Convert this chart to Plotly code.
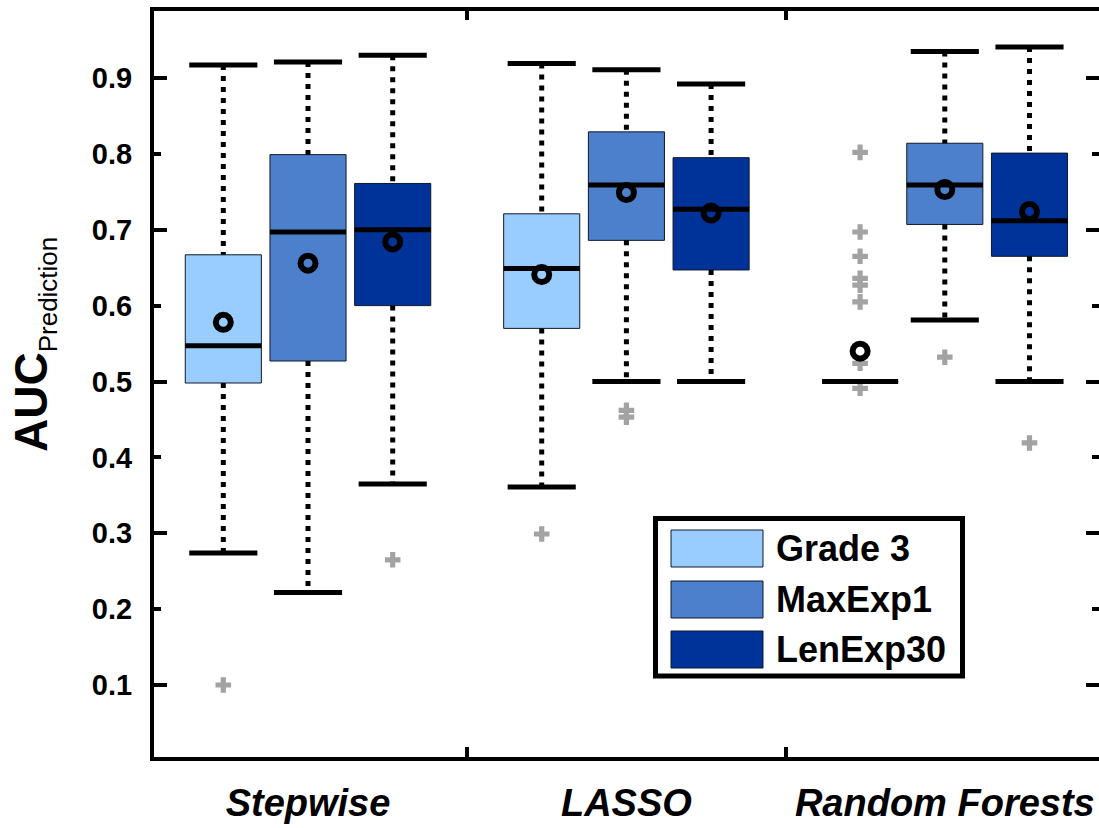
import plotly.graph_objects as go

# Methods on the x axis and the three endpoint definitions compared within each
methods = ["Stepwise", "LASSO", "Random Forests"]
models = ["Grade 3", "MaxExp1", "LenExp30"]
fill_colors = ["#99CCFF", "#4D80CC", "#003399"]

# Box-plot summary statistics of AUC (one value per method)
upper_whisker = {
    "Grade 3":  [0.917, 0.919, 0.500],
    "MaxExp1":  [0.921, 0.911, 0.935],
    "LenExp30": [0.930, 0.892, 0.941],
}
q3 = {
    "Grade 3":  [0.667, 0.721, 0.500],
    "MaxExp1":  [0.799, 0.829, 0.814],
    "LenExp30": [0.761, 0.795, 0.801],
}
median = {
    "Grade 3":  [0.547, 0.649, 0.500],
    "MaxExp1":  [0.697, 0.759, 0.759],
    "LenExp30": [0.700, 0.727, 0.712],
}
mean = {
    "Grade 3":  [0.578, 0.641, 0.540],
    "MaxExp1":  [0.656, 0.749, 0.753],
    "LenExp30": [0.684, 0.722, 0.724],
}
q1 = {
    "Grade 3":  [0.498, 0.570, 0.500],
    "MaxExp1":  [0.527, 0.686, 0.707],
    "LenExp30": [0.600, 0.647, 0.665],
}
lower_whisker = {
    "Grade 3":  [0.274, 0.361, 0.500],
    "MaxExp1":  [0.222, 0.500, 0.581],
    "LenExp30": [0.365, 0.500, 0.500],
}
outliers = {
    "Grade 3":  [[0.100], [0.299],
                 [0.802, 0.697, 0.665, 0.636, 0.627, 0.605, 0.524, 0.491]],
    "MaxExp1":  [[], [0.462, 0.453], [0.532]],
    "LenExp30": [[0.265], [], [0.419]],
}

y_ticks = [0.1, 0.2, 0.3, 0.4, 0.5, 0.6, 0.7, 0.8, 0.9]
y_long_ticks = [0.1, 0.3, 0.5, 0.7, 0.9]
group_dividers = [1.5, 2.5]

# Layout geometry (category units)
offsets = [-0.266, 0.0, 0.266]
box_w = 0.239
cap_w = 0.214

FONT = "Liberation Sans, Arial, sans-serif"
fig = go.Figure()

centers = {}
for k, model in enumerate(models):
    centers[model] = [i + 1 + offsets[k] for i in range(len(methods))]

# Boxes (Q1 to Q3)
for k, model in enumerate(models):
    fig.add_bar(
        x=centers[model],
        y=[hi - lo for hi, lo in zip(q3[model], q1[model])],
        base=q1[model],
        width=box_w,
        marker=dict(color=fill_colors[k], line=dict(color="#101828", width=1)),
        hoverinfo="skip",
    )

# Outliers
ox, oy = [], []
for model in models:
    for xc, vals in zip(centers[model], outliers[model]):
        ox += [xc] * len(vals)
        oy += vals
fig.add_scatter(x=ox, y=oy, mode="markers",
                marker=dict(symbol="cross", size=13, color="#A3A3A3"),
                hoverinfo="skip")

# Dotted whiskers
wx, wy = [], []
for model in models:
    for xc, a, b, c, d in zip(centers[model], q3[model], upper_whisker[model],
                              q1[model], lower_whisker[model]):
        wx += [xc, xc, None, xc, xc, None]
        wy += [b, a, None, c, d, None]
fig.add_scatter(x=wx, y=wy, mode="lines",
                line=dict(color="black", width=5, dash="5px,6px"),
                hoverinfo="skip")

# Whisker caps
cx, cy = [], []
for model in models:
    for xc, up, lo in zip(centers[model], upper_whisker[model], lower_whisker[model]):
        for v in (up, lo):
            cx += [xc - cap_w / 2, xc + cap_w / 2, None]
            cy += [v, v, None]
fig.add_scatter(x=cx, y=cy, mode="lines",
                line=dict(color="black", width=5), hoverinfo="skip")

# Medians
mx, my = [], []
for model in models:
    for xc, v in zip(centers[model], median[model]):
        mx += [xc - box_w / 2, xc + box_w / 2, None]
        my += [v, v, None]
fig.add_scatter(x=mx, y=my, mode="lines",
                line=dict(color="black", width=5), hoverinfo="skip")

# Means
for model in models:
    fig.add_scatter(x=centers[model], y=mean[model], mode="markers",
                    marker=dict(symbol="circle-open", size=15, color="black",
                                line=dict(width=6)),
                    hoverinfo="skip")

# Empty traces so the extra tick-only axes are rendered
fig.add_scatter(x=[None], y=[None], xaxis="x2", mode="markers", hoverinfo="skip")
for ax in ("y2", "y3", "y4"):
    fig.add_scatter(x=[None], y=[None], yaxis=ax, mode="markers",
                    hoverinfo="skip")

# Plot area in pixels
W, H = 1099, 828
ML, MR, MT, MB = 154, 0, 11, 71
PW, PH = W - ML - MR, H - MT - MB


def px(x, y):
    return (x - ML) / PW, (H - MB - y) / PH


# Legend drawn as a framed key
shapes = []
lx0, ly0 = px(655.5, 518.5)
lx1, ly1 = px(962.5, 676)
shapes.append(dict(type="rect", xref="paper", yref="paper", x0=lx0, x1=lx1,
                   y0=ly1, y1=ly0, line=dict(color="black", width=5),
                   fillcolor="white", layer="above"))
annotations = []
row_top = [530, 581, 631]
for k, model in enumerate(models):
    sx0, sy0 = px(671, row_top[k])
    sx1, sy1 = px(763, row_top[k] + 37)
    shapes.append(dict(type="rect", xref="paper", yref="paper", x0=sx0, x1=sx1,
                       y0=sy1, y1=sy0, line=dict(color="#101828", width=1),
                       fillcolor=fill_colors[k], layer="above"))
    tx, ty = px(774, row_top[k] + 18.5)
    annotations.append(dict(xref="paper", yref="paper", x=tx, y=ty,
                            xanchor="left", yanchor="middle", showarrow=False,
                            text="<b>%s</b>" % model,
                            font=dict(family=FONT, size=36, color="black")))

# Y axis title
ax_, ay_ = px(34, 345)
annotations.append(dict(xref="paper", yref="paper", x=ax_, y=ay_,
                        xanchor="center", yanchor="middle", showarrow=False,
                        textangle=-90,
                        text="<b>AUC</b><sub><span style='font-size:26px'>Prediction</span></sub>",
                        font=dict(family=FONT, size=46, color="black")))

x_range = [0.5163, 3.4843]
y_range = [0.0051, 0.9883]
common_y = dict(range=y_range, showgrid=False, zeroline=False, fixedrange=True)

fig.update_layout(
    width=W, height=H,
    margin=dict(l=ML, r=MR, t=MT, b=MB, pad=0),
    plot_bgcolor="white", paper_bgcolor="white",
    barmode="overlay", showlegend=False,
    font=dict(family=FONT, color="black"),
    shapes=shapes, annotations=annotations,
    xaxis=dict(
        range=x_range, showgrid=False, zeroline=False,
        tickvals=[1, 2, 3],
        ticktext=["<b><i>%s</i></b>" % m for m in methods],
        tickfont=dict(family=FONT, size=38, color="black"),
        ticks="", showline=True, linewidth=4, linecolor="black",
        mirror=True, ticklabelstandoff=9,
        minor=dict(tickvals=group_dividers, ticks="inside", ticklen=10,
                   tickwidth=4, tickcolor="black"),
    ),
    xaxis2=dict(range=x_range, overlaying="x", anchor="y", side="top",
                showgrid=False, zeroline=False, showline=False,
                tickvals=group_dividers, ticks="inside", ticklen=9,
                tickwidth=4, tickcolor="black", showticklabels=False),
    yaxis=dict(
        **common_y,
        tickvals=y_ticks, ticktext=["<b>%.1f</b>" % v for v in y_ticks],
        tickfont=dict(family=FONT, size=29, color="black"),
        ticks="inside", ticklen=7, tickwidth=4, tickcolor="black",
        showline=True, linewidth=4, linecolor="black", mirror=False,
        ticklabelstandoff=12,
    ),
    yaxis2=dict(**common_y, overlaying="y", anchor="x", side="left",
                tickvals=y_long_ticks, ticks="inside", ticklen=13, tickwidth=4,
                tickcolor="black", showticklabels=False, showline=False),
    yaxis3=dict(**common_y, overlaying="y", anchor="x", side="right",
                tickvals=y_ticks, ticks="inside", ticklen=7, tickwidth=4,
                tickcolor="black", showticklabels=False, showline=False),
    yaxis4=dict(**common_y, overlaying="y", anchor="x", side="right",
                tickvals=y_long_ticks, ticks="inside", ticklen=13, tickwidth=4,
                tickcolor="black", showticklabels=False, showline=False),
)

fig.write_html("out.html")
